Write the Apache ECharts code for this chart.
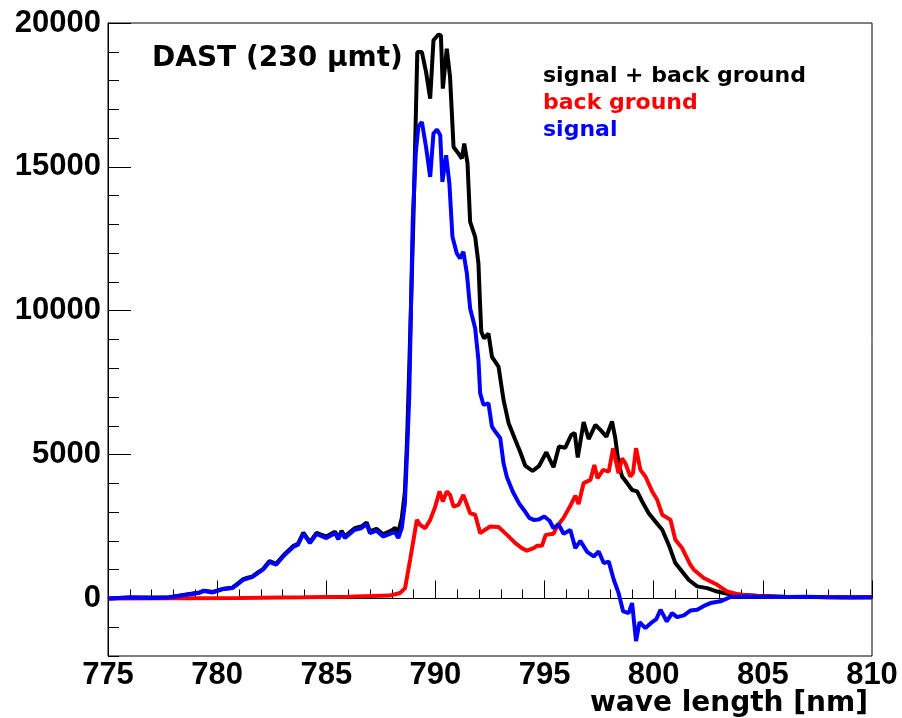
<!DOCTYPE html>
<html>
<head>
<meta charset="utf-8">
<script src="https://cdn.jsdelivr.net/npm/echarts@6/dist/echarts.min.js"></script>
<style>html,body{margin:0;padding:0;background:#fff}#c{width:902px;height:718px}</style>
</head>
<body>
<div id="c"></div>
<script>
// ---- data ----
const seriesNames = ['signal + back ground', 'back ground', 'signal'];
const xTickLabels = [775, 780, 785, 790, 795, 800, 805, 810];
const yTickLabels = [0, 5000, 10000, 15000, 20000];

const wlSum = [775,776,777,777.8,778.1,778.6,779.2,779.4,779.8,780.3,780.7,781.0,781.2,781.4,781.6,781.9,782.1,782.4,782.7,783.1,783.5,783.7,783.95,784.25,784.55,785.0,785.4,785.55,785.7,785.85,786.3,786.6,786.85,787.0,787.3,787.6,788.0,788.15,788.3,788.46,788.6,788.7,788.8,788.99,789.17,789.38,789.57,789.76,789.91,790.14,790.25,790.34,790.52,790.67,790.83,791.06,791.21,791.32,791.47,791.59,791.82,791.97,792.05,792.1,792.23,792.43,792.59,792.89,793.12,793.35,793.66,793.89,794.11,794.45,794.75,795.08,795.41,795.66,795.95,796.22,796.38,796.52,796.79,797.02,797.33,797.56,797.83,798.09,798.24,798.39,798.55,798.78,799.01,799.24,799.47,799.77,800.08,800.39,800.69,800.99,801.3,801.6,801.99,802.45,802.91,803.37,803.98,804.74,806,807.5,809,810];
const sumVals = [0,30,30,40,80,140,210,270,225,340,375,550,670,720,760,920,1020,1300,1200,1550,1830,1900,2290,1960,2280,2150,2320,2110,2350,2160,2440,2500,2640,2330,2420,2230,2370,2450,2300,2800,3700,5500,8000,13150,18990,18990,18300,17370,19400,19600,19570,17720,19110,18120,15690,15460,15290,15810,15120,13090,12570,11650,10140,9270,9040,9210,8400,8060,6900,6100,5510,5080,4620,4430,4610,5080,4560,5280,5240,5680,5750,4900,6130,5540,6030,5860,5620,6150,5570,4700,4240,4010,3770,3720,3370,2960,2670,2390,1860,1230,940,650,420,360,240,160,130,90,60,50,40,40];

const wlBg = [775,778,781,784,786,787.9,788.38,788.61,788.84,789.15,789.3,789.53,789.76,789.99,790.19,790.34,790.52,790.67,790.83,791.06,791.28,791.59,791.82,792.05,792.28,792.51,792.89,793.28,793.66,793.96,794.19,794.5,794.65,794.88,795.05,795.41,795.57,795.87,796.18,796.41,796.56,796.79,797.1,797.28,797.43,797.68,797.94,798.14,798.39,798.55,798.7,798.93,799.05,799.19,799.39,799.62,799.93,800.16,800.39,800.77,800.99,801.3,801.68,801.84,802.29,802.91,803.37,803.83,804.44,805.5,807,808.5,810];
const bgVals = [0,10,20,40,60,100,190,360,1340,2730,2560,2440,2730,3190,3720,3370,3720,3600,3190,3250,3600,2960,2910,2270,2390,2500,2480,2210,1920,1750,1660,1750,1830,1830,2210,2250,2500,2800,3220,3570,3280,4010,4120,4640,4180,4470,4410,5220,4350,4870,4700,4240,4350,5220,4470,4240,3720,3430,2910,2730,2040,1750,1170,1000,710,475,240,150,90,60,50,40,40];

const wlSig = [775,776,777,777.8,778.1,778.6,779.2,779.4,779.8,780.3,780.7,781.0,781.2,781.4,781.6,781.9,782.1,782.4,782.7,783.1,783.5,783.7,783.95,784.25,784.55,785.0,785.4,785.55,785.7,785.85,786.3,786.6,786.85,787.0,787.3,787.6,788.0,788.15,788.3,788.46,788.6,788.7,788.8,788.96,789.1,789.22,789.38,789.57,789.76,789.91,790.07,790.22,790.32,790.49,790.64,790.78,790.98,791.13,791.28,791.44,791.59,791.82,791.97,792.05,792.2,792.43,792.59,792.74,792.97,793.12,793.28,793.55,793.85,794.08,794.3,794.5,794.72,794.99,795.23,795.41,795.64,795.87,796.18,796.41,796.64,796.95,797.25,797.48,797.71,797.94,798.17,798.39,798.6,798.85,799.01,799.19,799.35,799.62,799.93,800.12,800.31,800.6,800.84,801.07,801.38,801.68,801.99,802.3,802.6,803.06,803.52,804.13,805,806,807,808,809,810];
const sigVals = [0,30,20,30,70,130,200,260,210,330,360,530,650,700,740,900,1000,1270,1170,1520,1800,1860,2250,1920,2240,2100,2270,2060,2300,2100,2385,2440,2580,2270,2360,2150,2270,2300,2100,2450,3300,5050,7000,13150,15500,16400,16560,15690,14650,16160,16300,16100,14480,15400,14420,12570,11990,11820,12050,11300,10080,9390,8290,7130,6730,6780,5970,5800,5570,4700,4200,3700,3280,3050,2800,2730,2740,2850,2700,2440,2580,2250,2380,1750,2000,1620,1460,1630,1230,1280,650,190,-450,-510,-160,-1480,-820,-1030,-820,-720,-390,-800,-510,-650,-590,-420,-390,-260,-160,-100,50,70,60,50,60,40,30,40];

const seriesColors = ['#000000', '#ff0000', '#0000ff'];

function pairs(xs, ys) { return xs.map((x, i) => [x, ys[i]]); }

const chart = echarts.init(document.getElementById('c'), null, { renderer: 'canvas' });
const tickFont = { fontFamily: 'Liberation Sans, Arial, sans-serif', fontWeight: 'bold', fontSize: 31, color: '#000' };
const textFont = 'DejaVu Sans, sans-serif';

chart.setOption({
  animation: false,
  backgroundColor: '#ffffff',
  grid: { left: 108, right: 30, top: 23, bottom: 62, show: true, borderColor: '#000', borderWidth: 1, containLabel: false },
  legend: {
    orient: 'vertical', left: 533, top: 58, icon: 'none', itemWidth: 0, itemHeight: 10, itemGap: 1,
    selectedMode: false,
    textStyle: { fontFamily: textFont, fontWeight: 'bold', fontSize: 22, lineHeight: 26, padding: 0 },
    data: seriesNames.map((n, i) => ({ name: n, textStyle: { color: seriesColors[i] } }))
  },
  graphic: [{
    type: 'text', x: 152, y: 59,
    style: { text: 'DAST (230 \u03bcmt)', font: 'bold 28px ' + textFont, fill: '#000', align: 'left', verticalAlign: 'middle' }
  }, {
    type: 'text', x: 868, y: 704,
    style: { text: 'wave length [nm]', font: 'bold 28px ' + textFont, fill: '#000', align: 'right', verticalAlign: 'middle' }
  }],
  xAxis: {
    type: 'value', min: 775, max: 810, interval: 5,
    axisLine: { show: true, lineStyle: { color: '#000', width: 1 } },
    axisTick: { show: true, inside: true, length: 18, lineStyle: { color: '#000', width: 1 } },
    minorTick: { show: true, splitNumber: 5, length: 9, lineStyle: { color: '#000', width: 1 } },
    axisLabel: Object.assign({ margin: 4, formatter: v => String(v), customValues: xTickLabels }, tickFont),
    splitLine: { show: false }
  },
  yAxis: [{
    type: 'value', min: -2000, max: 20000,
    axisLine: { show: true, lineStyle: { color: '#000', width: 1 } },
    axisTick: { show: true, inside: true, length: 23, customValues: yTickLabels, lineStyle: { color: '#000', width: 1 } },
    axisLabel: Object.assign({ margin: 7, customValues: yTickLabels, formatter: v => String(v) }, tickFont),
    splitLine: { show: false }
  }, {
    type: 'value', min: -2000, max: 20000, interval: 1000, position: 'left',
    axisLine: { show: false },
    axisTick: { show: true, inside: true, length: 11, lineStyle: { color: '#000', width: 1 } },
    axisLabel: { show: false },
    splitLine: { show: false }
  }],
  series: [
    { name: seriesNames[0], type: 'line', data: pairs(wlSum, sumVals), showSymbol: false, symbol: 'none', lineStyle: { color: seriesColors[0], width: 4 }, itemStyle: { color: seriesColors[0] }, z: 2 },
    { name: seriesNames[1], type: 'line', data: pairs(wlBg, bgVals), showSymbol: false, symbol: 'none', lineStyle: { color: seriesColors[1], width: 4 }, itemStyle: { color: seriesColors[1] }, z: 3 },
    { name: seriesNames[2], type: 'line', data: pairs(wlSig, sigVals), showSymbol: false, symbol: 'none', lineStyle: { color: seriesColors[2], width: 4 }, itemStyle: { color: seriesColors[2] }, z: 4 }
  ]
});
</script>
</body>
</html>
